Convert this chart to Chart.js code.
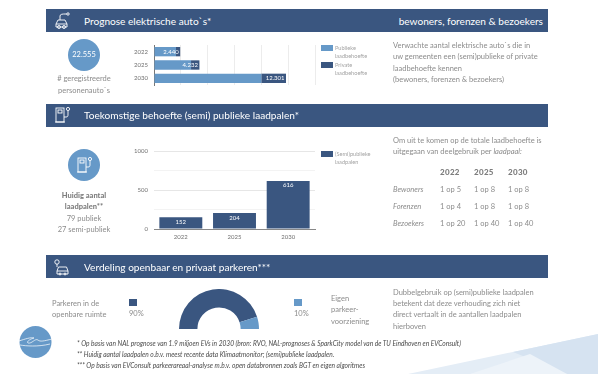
<!DOCTYPE html>
<html><head><meta charset="utf-8">
<script src="https://cdn.jsdelivr.net/npm/chart.js@4"></script>
<style>
html,body{margin:0;padding:0;background:#fff;overflow:hidden}
#page{position:relative;width:598px;height:376px;font-family:Lato,sans-serif;color:#8c8c8c;overflow:hidden;filter:blur(.5px)}
#page>*{position:absolute}
.band{left:46px;width:502px;height:23px;background:#3a5680;border:0}
.h{color:#fff;font-size:10.1px;line-height:14px;white-space:nowrap}
.t{font-size:7.5px;line-height:10px;white-space:nowrap}
.c{transform:translateX(-50%);text-align:center}
.l{font-size:5.6px;line-height:8px;color:#a3a3a3;white-space:nowrap}
.f{font-size:6.6px;line-height:8px;font-style:italic;color:#4a4a4a;white-space:nowrap}
.circ{width:32px;height:32px;border-radius:50%;background:#6699c8}
.sq{width:12px;height:6px}
canvas{display:block}
</style></head><body>
<div id="page">
<svg style="left:0;top:0" width="598" height="376">
<polygon points="408,374 598,334 598,374" fill="#e4edf6"/>
<polygon points="513,352 598,334 598,374 567,374" fill="#d6e3f1"/>
<polygon points="470,374 530,354 567,374" fill="#edf3f9"/>
</svg>
<div class="band" style="top:9px"></div>
<div class="band" style="top:103.500px"></div>
<div class="band" style="top:255px"></div>
<div class="h" style="left:84px;top:14px">Prognose elektrische auto`s*</div>
<div class="h" style="right:55px;top:14px">bewoners, forenzen &amp; bezoekers</div>
<div class="h" style="left:84px;top:108px">Toekomstige behoefte (semi) publieke laadpalen*</div>
<div class="h" style="left:84px;top:260px">Verdeling openbaar en privaat parkeren***</div>

<svg style="left:52px;top:11px" width="20" height="20" fill="none" stroke="#fff" stroke-width=".9">
<path d="M4 13l2-4h7l2 4v3H4zM4 13h11M8 9V5c0-2 3-2 5-2h2"/><circle cx="7" cy="16" r="1.500"/><circle cx="12" cy="16" r="1.500"/><circle cx="16" cy="3" r="1.200"/></svg>
<svg style="left:52px;top:105px" width="20" height="20" fill="none" stroke="#fff" stroke-width=".9">
<rect x="4" y="3" width="8" height="14"/><rect x="6" y="5" width="4" height="3"/><path d="M3 17h10M12 12h2c2 0 2-1 2-3V6"/><circle cx="16" cy="4" r="1.600"/></svg>
<svg style="left:52px;top:257px" width="20" height="20" fill="none" stroke="#fff" stroke-width=".9">
<path d="M5 14l1.500-4h8l1.500 4v3H5zM5 14h11"/><circle cx="5" cy="5" r="2.200"/><path d="M5 7v3"/><circle cx="8" cy="17" r="1"/><circle cx="13" cy="17" r="1"/></svg>

<div class="circ" style="left:68px;top:39px"></div>
<div class="t c" style="left:84px;top:50px;color:#fff;font-size:7.500px">22.555</div>
<div class="t c" style="left:84px;top:74px">#&nbsp;geregistreerde</div>
<div class="t c" style="left:84px;top:86px">personenauto`s</div>

<canvas id="c1" style="left:120px;top:40px" width="200" height="50"></canvas>
<div class="sq" style="left:321px;top:45px;background:#6699c8"></div>
<div class="l" style="left:335px;top:44px">Publieke<br>laadbehoefte</div>
<div class="sq" style="left:321px;top:62px;background:#3a5680"></div>
<div class="l" style="left:335px;top:61px">Private<br>laadbehoefte</div>
<div class="t" style="left:393px;top:40px;line-height:11.400px">Verwachte aantal elektrische auto`s die in<br>uw gemeenten een (semi)publieke of private<br>laadbehoefte kennen<br>(bewoners, forenzen &amp; bezoekers)</div>

<div class="circ" style="left:68px;top:149px"></div>
<svg style="left:74px;top:155px" width="20" height="20" fill="none" stroke="#fff" stroke-width=".9">
<rect x="4" y="3" width="8" height="14"/><rect x="6" y="5" width="4" height="3"/><path d="M3 17h10M12 12h2c2 0 2-1 2-3V6"/><circle cx="16" cy="4" r="1.600"/></svg>
<div class="t c" style="left:84px;top:191px;font-weight:900;color:#808080">Huidig aantal</div>
<div class="t c" style="left:84px;top:202px;font-weight:900;color:#808080">laadpalen**</div>
<div class="t c" style="left:84px;top:213.500px">79 publiek</div>
<div class="t c" style="left:84px;top:224.500px">27 semi-publiek</div>

<canvas id="c2" style="left:120px;top:145px" width="200" height="100"></canvas>
<div class="sq" style="left:321px;top:151px;background:#3a5680"></div>
<div class="l" style="left:335px;top:150px">(Semi)publieke<br>laadpalen</div>
<div class="t" style="left:393px;top:134.500px;line-height:11.400px">Om uit te komen op de totale laadbehoefte is<br>uitgegaan van deelgebruik per <i>laadpaal:</i></div>
<div id="tbl" style="left:0;top:0"></div>

<div class="t" style="left:52px;top:298px;line-height:11.400px">Parkeren in de<br>openbare ruimte</div>
<div style="left:129px;top:298.500px;width:8px;height:7.500px;background:#3a5680"></div>
<div class="t" style="left:129px;top:309px">90%</div>
<canvas id="c3" style="left:179px;top:289px" width="80" height="40"></canvas>
<div style="left:294px;top:298.500px;width:8px;height:7.500px;background:#6699c8"></div>
<div class="t" style="left:294px;top:309px">10%</div>
<div class="t" style="left:331px;top:293px;line-height:11.400px">Eigen<br>parkeer-<br>voorziening</div>
<div class="t" style="left:393px;top:287px;line-height:11.200px">Dubbelgebruik op (semi)publieke laadpalen<br>betekent dat deze verhouding zich niet<br>direct vertaalt in de aantallen laadpalen<br>hierboven</div>

<svg style="left:19px;top:326px" width="34" height="32"><circle cx="16.500" cy="16" r="16" fill="#6699c8"/>
<path d="M0 15c6-2 12-4 15-3-4 1-8 4-6 5 4 1 7-5 10-3 2 2 6 1 14-1M1 19c6 1 18 2 30-1" fill="none" stroke="#fff" stroke-width=".7"/></svg>
<div class="f" style="left:77px;top:339px">* Op basis van NAL prognose van 1.9 miljoen EVs in 2030 (bron: RVO, NAL-prognoses &amp; SparkCity model van de TU Eindhoven en EVConsult)</div>
<div class="f" style="left:77px;top:350px">** Huidig aantal laadpalen o.b.v. meest recente data Klimaatmonitor; (semi)publieke laadpalen.</div>
<div class="f" style="left:77px;top:361px">*** Op basis van EVConsult parkeerareaal-analyse m.b.v. open databronnen zoals BGT en eigen algoritmes</div>
</div>
<script>
const evYears = ['2022','2025','2030'];
const publicDemand = [2050,3450,10000];
const privateDemand = [390,782,2301];
const evTotals = ['2.440','4.232','12.301'];
const poleYears = ['2022','2025','2030'];
const poleValues = [152,204,616];
const parkingLabels = ['Parkeren in de openbare ruimte','Eigen parkeervoorziening'];
const parkingShare = [90,10];
const tableYears = ['2022','2025','2030'];
const tableRows = ['Bewoners','Forenzen','Bezoekers'];
const tableCells = [['1 op 5','1 op 8','1 op 8'],['1 op 4','1 op 8','1 op 8'],['1 op 20','1 op 40','1 op 40']];

const DARK='#3a5680', LIGHT='#6699c8', FONT='Lato, sans-serif';
Chart.defaults.animation=false;
Chart.defaults.responsive=false;
Chart.defaults.font.family=FONT;

const tbl=document.getElementById('tbl');
const colX=[440,474,508], rowY=[184.500,201.500,219];
let html='';
tableYears.forEach((y,i)=>html+=`<div class="t" style="position:absolute;left:${colX[i]}px;top:167px;font-weight:900;color:#7d7d7d;font-size:8px;letter-spacing:.3px">${y}</div>`);
tableRows.forEach((r,j)=>{
  html+=`<div class="t" style="position:absolute;left:393px;top:${rowY[j]}px;font-style:italic">${r}</div>`;
  tableCells[j].forEach((c,i)=>html+=`<div class="t" style="position:absolute;left:${colX[i]}px;top:${rowY[j]}px">${c}</div>`);
});
tbl.innerHTML=html;

const totalLabels={id:'totalLabels',afterDatasetsDraw(ch){
  const c=ch.ctx, m=ch.getDatasetMeta(1);
  c.save();c.font='6px '+FONT;c.fillStyle='#fff';c.textAlign='right';c.textBaseline='middle';
  m.data.forEach((b,i)=>c.fillText(evTotals[i],b.x-1.500,b.y));
  c.restore();
}};
function noMargin(w){return s=>{s.width=w;s.paddingTop=0;s.paddingBottom=0;};}
new Chart(document.getElementById('c1'),{
  type:'bar',
  data:{labels:evYears,datasets:[
    {label:'Publieke laadbehoefte',data:publicDemand,backgroundColor:LIGHT,stack:'a',barPercentage:.7,categoryPercentage:1},
    {label:'Private laadbehoefte',data:privateDemand,backgroundColor:DARK,stack:'a',barPercentage:.7,categoryPercentage:1}]},
  options:{indexAxis:'y',layout:{padding:{top:5,bottom:5,right:5,left:0}},
    plugins:{legend:{display:false},tooltip:{enabled:false}},
    scales:{
      x:{stacked:true,min:0,max:15000,ticks:{display:false,stepSize:2500},grid:{color:'#ececec',lineWidth:1,drawTicks:false},border:{display:false},afterFit(s){s.height=0}},
      y:{stacked:true,ticks:{color:'#707070',font:{size:6},padding:6},grid:{display:false,drawTicks:false},border:{color:'#777',width:1},afterFit:noMargin(34)}
    }},
  plugins:[totalLabels]
});

const valueLabels={id:'valueLabels',afterDatasetsDraw(ch){
  const c=ch.ctx;
  c.save();c.font='6px '+FONT;c.fillStyle='#fff';c.textAlign='center';c.textBaseline='middle';
  ch.getDatasetMeta(0).data.forEach((b,i)=>c.fillText(poleValues[i],b.x,b.y+4.500));
  c.restore();
}};
new Chart(document.getElementById('c2'),{
  type:'bar',
  data:{labels:poleYears,datasets:[{label:'(Semi)publieke laadpalen',data:poleValues,backgroundColor:DARK,barPercentage:.8,categoryPercentage:1}]},
  options:{layout:{padding:{top:6,bottom:0,right:5,left:0}},
    plugins:{legend:{display:false},tooltip:{enabled:false}},
    scales:{
      x:{ticks:{color:'#707070',font:{size:6},padding:4},grid:{display:false,drawTicks:false},border:{color:'#888',width:1},afterFit(s){s.height=16}},
      y:{min:0,max:1000,ticks:{stepSize:250,color:'#707070',font:{size:6},padding:6,callback:v=>v%500===0?v:''},
        grid:{color:c=>c.tick&&c.tick.value%500===0?'#e6e6e6':'#f3f3f3',drawTicks:false},border:{display:false},afterFit:noMargin(34)}
    }},
  plugins:[valueLabels]
});

new Chart(document.getElementById('c3'),{
  type:'doughnut',
  data:{labels:parkingLabels,datasets:[{data:parkingShare,backgroundColor:[DARK,LIGHT],borderWidth:0}]},
  options:{rotation:-90,circumference:180,cutout:'54%',layout:{padding:0},plugins:{legend:{display:false},tooltip:{enabled:false}}}
});
</script>
</body></html>
